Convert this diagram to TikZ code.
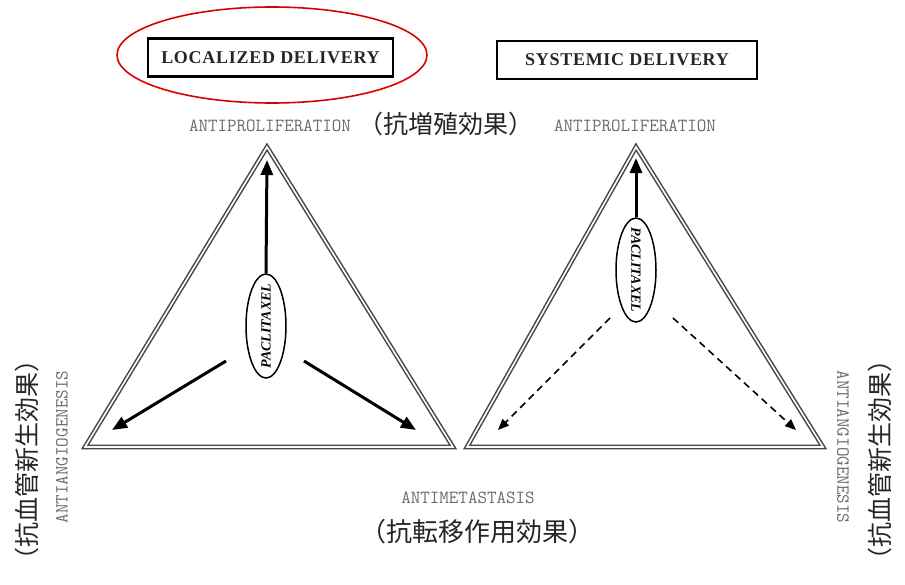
\documentclass[tikz,border=0pt]{standalone}
\usepackage{fontspec}
\setmainfont{Liberation Serif}
\newfontfamily\cjk{Noto Sans CJK JP}
\newfontfamily\titlef[LetterSpace=4]{Liberation Serif}
\usetikzlibrary{arrows.meta,shapes.geometric}
\begin{document}
\begin{tikzpicture}[x=1pt,y=-1pt,
  tri/.style={draw=gray!55!black,line width=1.5pt,double=white,double distance=1.6pt,line join=miter},
  title/.style={draw=black,line width=2.8pt,font=\titlef\fontsize{18}{18}\selectfont\bfseries,text=black!85,inner sep=0pt,minimum height=38pt},
  mono/.style={font=\ttfamily\fontsize{18.5}{18.5}\selectfont,text=gray!85!black,inner sep=0pt},
  cj/.style={font=\cjk\fontsize{25}{25}\selectfont,text=black!85,inner sep=0pt},
  pac/.style={draw=black,line width=1.5pt,ellipse,minimum width=40pt,minimum height=104pt,inner sep=0pt},
  pactext/.style={font=\fontsize{14}{14}\selectfont\bfseries\itshape,inner sep=0pt},
  bigarrow/.style={line width=3pt,-{Triangle[length=15pt,width=12pt]}},
  dasharrow/.style={line width=1.6pt,dash pattern=on 7pt off 5pt,-{Triangle[length=11pt,width=9pt]}}]
\useasboundingbox[fill=white] (0,0) rectangle (905,584);

% titles
\node[title,minimum width=245pt] (loc) at (270.5,57.5) {LOCALIZED DELIVERY};
\node[draw=red!85!black,line width=1.6pt,ellipse,minimum width=310pt,minimum height=96pt] (redell) at (272,55) {};
\node[title,minimum width=260pt] (sys) at (627,60) {SYSTEMIC DELIVERY};

% top labels
\node[mono] (ap1) at (270,126) {ANTIPROLIFERATION};
\node[cj] (ap1j) at (446,124) {（抗増殖効果）};
\node[mono] (ap2) at (635,126) {ANTIPROLIFERATION};

% triangles
\coordinate (LA) at (267,147);
\coordinate (LB) at (85,447);
\coordinate (LC) at (453,447);
\coordinate (RA) at (636,147);
\coordinate (RB) at (467,447);
\coordinate (RC) at (823,447);
\draw[tri] (LA) -- (LB) -- (LC) -- cycle;
\draw[tri] (RA) -- (RB) -- (RC) -- cycle;

% left paclitaxel
\node[pac] (p1) at (266,326) {};
\node[pactext,rotate=90] (p1t) at (p1) {PACLITAXEL};
\coordinate (l1) at (267,160);
\coordinate (l2a) at (226,361);
\coordinate (l2) at (112,430);
\coordinate (l3a) at (304,361);
\coordinate (l3) at (416,430);
\draw[bigarrow] (p1.north) -- (l1);
\draw[bigarrow] (l2a) -- (l2);
\draw[bigarrow] (l3a) -- (l3);

% right paclitaxel
\node[pac] (p2) at (636,270) {};
\node[pactext,rotate=-90] (p2t) at (p2) {PACLITAXEL};
\coordinate (r1) at (636,158);
\coordinate (r2a) at (610,318);
\coordinate (r2) at (498,430);
\coordinate (r3a) at (673,318);
\coordinate (r3) at (796,430);
\draw[bigarrow] (p2.north) -- (r1);
\draw[dasharrow] (r2a) -- (r2);
\draw[dasharrow] (r3a) -- (r3);

% bottom labels
\node[mono] (am) at (468,498) {ANTIMETASTASIS};
\node[cj,font=\cjk\fontsize{26}{26}\selectfont] (amj) at (477,532) {（抗転移作用効果）};

% side labels
\node[mono,rotate=90] (ag1) at (62,447) {ANTIANGIOGENESIS};
\node[cj,rotate=90] (ag1j) at (27,460) {（抗血管新生効果）};
\node[mono,rotate=-90] (ag2) at (843,447) {ANTIANGIOGENESIS};
\node[cj,rotate=90] (ag2j) at (880,460) {（抗血管新生効果）};
\end{tikzpicture}
\end{document}
